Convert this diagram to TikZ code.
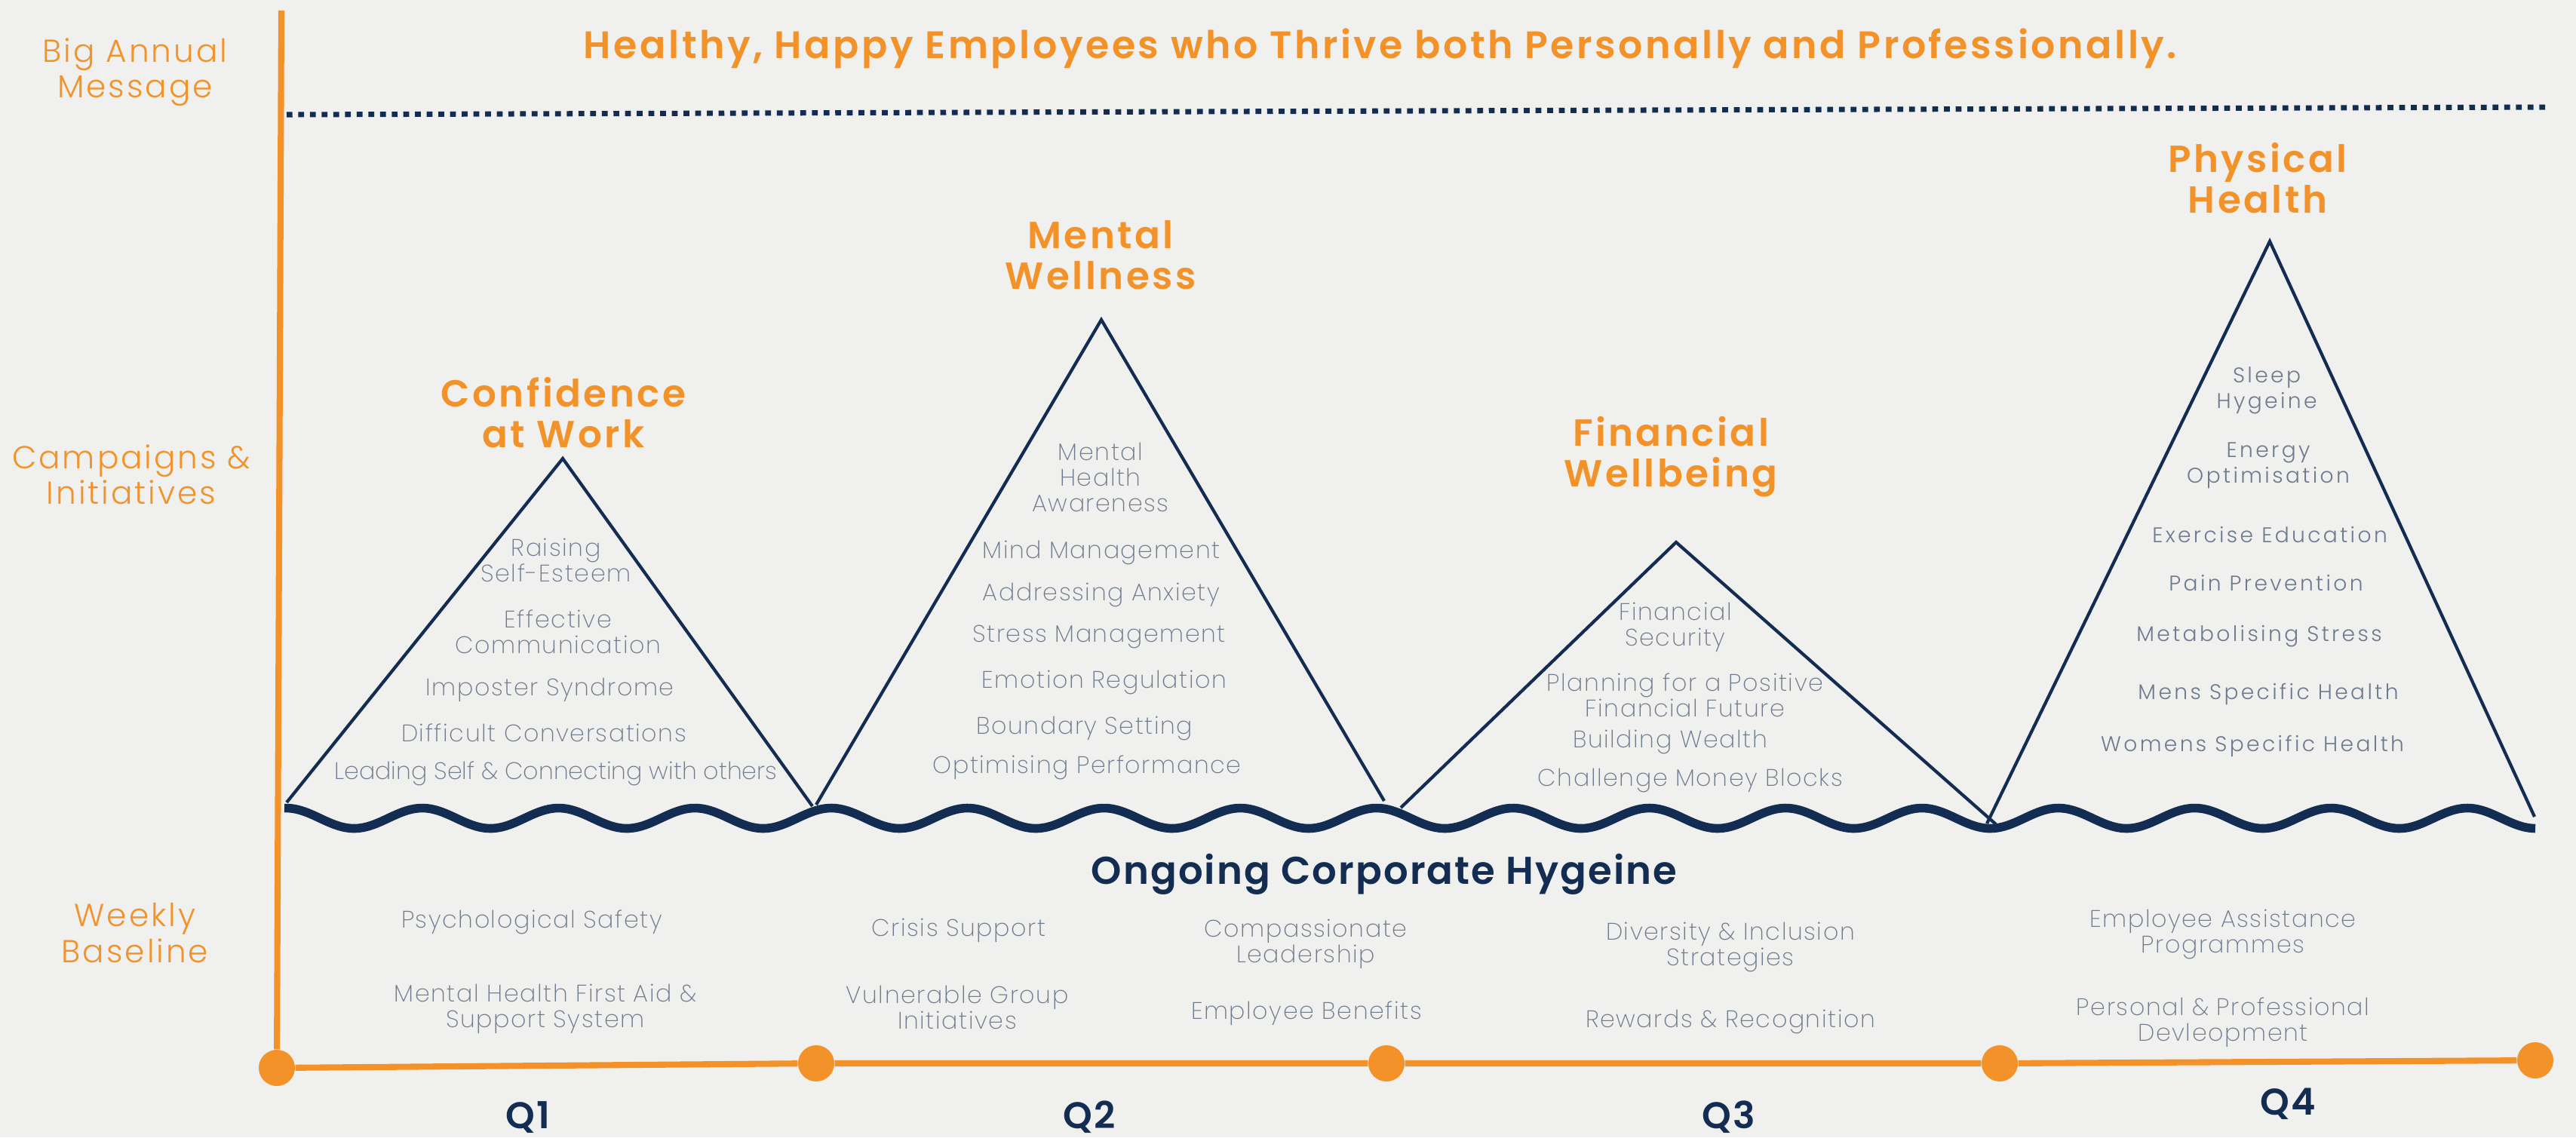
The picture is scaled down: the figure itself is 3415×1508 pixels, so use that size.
\documentclass[tikz,border=0pt]{standalone}
\usepackage{fontspec}
\setmainfont{Poppins}
\newfontfamily\thinfont{Poppins ExtraLight}[LetterSpace=5]
\newfontfamily\tightfont{Poppins ExtraLight}
\newfontfamily\lightfont{Poppins Light}[LetterSpace=7]
\newfontfamily\semifont{Poppins SemiBold}[LetterSpace=4]
\newfontfamily\widefont{Poppins Light}[LetterSpace=12]
\newfontfamily\headfont{Poppins SemiBold}[LetterSpace=7]

\definecolor{bgcol}{HTML}{F0F0EE}
\definecolor{orng}{HTML}{F39229}
\definecolor{navy}{HTML}{132D52}
\definecolor{itemgrey}{HTML}{6E7A8E}

\tikzset{
  rowlabel/.style={text=orng, align=center, inner sep=0pt, font=\lightfont\fontsize{12}{13.4}\selectfont},
  peaktitle/.style={text=orng, align=center, inner sep=0pt, font=\headfont\fontsize{14.2}{15.4}\selectfont},
  item/.style={text=itemgrey, align=center, inner sep=0pt, font=\thinfont\fontsize{9}{9.7}\selectfont},
  wideitem/.style={item, font=\widefont\fontsize{8}{9.7}\selectfont},
  quarter/.style={text=navy, inner sep=0pt, font=\semifont\fontsize{14}{15}\selectfont},
  peak/.style={draw=navy, line width=1.2pt},
  axis/.style={draw=orng, line width=2.3pt},
  tick/.style={circle, fill=orng, minimum size=0.48cm, inner sep=0pt},
}

\begin{document}
\begin{tikzpicture}[x=0.01cm, y=-0.01cm]
  \fill[bgcol] (0,0) rectangle (3415,1508);
  \useasboundingbox (0,0) rectangle (3415,1508);

  %%% row labels
  \node[rowlabel] (lblmsg) at (179, 96) {Big Annual\\Message};
  \node[rowlabel] (lblcamp) at (174, 629) {Campaigns \&\\Initiatives};
  \node[rowlabel] (lblweek) at (179, 1237) {Weekly\\Baseline};

  %%% annual message
  \node[text=orng, inner sep=0pt, font=\headfont\fontsize{14.4}{16}\selectfont] (headline) at (1830, 64)
    {Healthy, Happy Employees who Thrive both Personally and Professionally.};
  \coordinate (m0) at (380, 152);
  \coordinate (m1) at (3380, 142);
  \draw[navy, line width=2pt, dash pattern=on 2.2pt off 2.2pt] (m0) -- (m1);

  %%% quarter ticks and axes
  \node[tick] (q0) at (367, 1416) {};
  \node[tick] (q1) at (1082, 1410) {};
  \node[tick] (q2) at (1838, 1410) {};
  \node[tick] (q3) at (2651, 1410) {};
  \node[tick] (q4) at (3361, 1406) {};
  \coordinate (top) at (373, 14);
  \draw[axis] (top) -- (q0);
  \draw[axis] (q0) -- (q1) -- (q2) -- (q3) -- (q4);

  \node[quarter] (lq1) at (700, 1482) {Q1};
  \node[quarter] (lq2) at (1444, 1481) {Q2};
  \node[quarter] (lq3) at (2292, 1481) {Q3};
  \node[quarter] (lq4) at (3033, 1464) {Q4};

  %%% the peaks
  \coordinate (p1l) at (380, 1064);  \coordinate (p1t) at (746, 608);  \coordinate (p1r) at (1077, 1069);
  \coordinate (p2l) at (1082, 1067); \coordinate (p2t) at (1460, 424); \coordinate (p2r) at (1835, 1062);
  \coordinate (p3l) at (1857, 1071); \coordinate (p3t) at (2222, 719); \coordinate (p3r) at (2646, 1093);
  \coordinate (p4l) at (2634, 1092); \coordinate (p4t) at (3009, 320); \coordinate (p4r) at (3360, 1083);
  \draw[peak] (p1l) -- (p1t) -- (p1r);
  \draw[peak] (p2l) -- (p2t) -- (p2r);
  \draw[peak] (p3l) -- (p3t) -- (p3r);
  \draw[peak] (p4l) -- (p4t) -- (p4r);

  % baseline wave
  \draw[navy, line width=3.3pt] plot[domain=377:3361, samples=400, smooth]
    (\x, {1085 - 13.5*cos((\x-379)*1.99170)});

  \node[peaktitle] (t1) at (747, 547) {Confidence\\at Work};
  \node[peaktitle] (t2) at (1459, 338) {Mental\\Wellness};
  \node[peaktitle] (t3) at (2215, 606) {Financial\\Wellbeing};
  \node[peaktitle] (t4) at (2993, 236) {Physical\\Health};

  % Q1 peak
  \node[item] (c1) at (737, 743) {Raising\\Self-Esteem};
  \node[item] (c2) at (740, 838) {Effective\\Communication};
  \node[item] (c3) at (729, 915) {Imposter Syndrome};
  \node[item] (c4) at (721, 972) {Difficult Conversations};
  \node[item, font=\tightfont\fontsize{9}{9.7}\selectfont] (c5) at (737, 1026) {Leading Self \& Connecting with others};

  % Q2 peak
  \node[item] (w1) at (1459, 633) {Mental\\Health\\Awareness};
  \node[item] (w2) at (1460, 733) {Mind Management};
  \node[item] (w3) at (1460, 789) {Addressing Anxiety};
  \node[item] (w4) at (1457, 844) {Stress Management};
  \node[item] (w5) at (1464, 905) {Emotion Regulation};
  \node[item] (w6) at (1438, 966) {Boundary Setting};
  \node[item] (w7) at (1441, 1018) {Optimising Performance};

  % Q3 peak
  \node[item] (f1) at (2221, 832) {Financial\\Security};
  \node[item] (f2) at (2234, 922) {Planning for a Positive\\Financial Future};
  \node[item] (f3) at (2214, 984) {Building Wealth};
  \node[item] (f4) at (2241, 1035) {Challenge Money Blocks};

  % Q4 peak
  \node[wideitem] (h1) at (3005, 518) {Sleep\\Hygeine};
  \node[wideitem] (h2) at (3007, 617) {Energy\\Optimisation};
  \node[wideitem] (h3) at (3009, 709) {Exercise Education};
  \node[wideitem] (h4) at (3004, 773) {Pain Prevention};
  \node[wideitem] (h5) at (2995, 844) {Metabolising Stress};
  \node[wideitem] (h6) at (3007, 920) {Mens Specific Health};
  \node[wideitem] (h7) at (2986, 989) {Womens Specific Health};

  %%% weekly baseline
  \node[text=navy, inner sep=0pt, font=\semifont\fontsize{14.6}{16}\selectfont, text height=10pt] (hygiene) at (1835, 1162)
    {Ongoing Corporate Hygeine};

  \node[item] (b1) at (705, 1223) {Psychological Safety};
  \node[item] (b2) at (723, 1338) {Mental Health First Aid \&\\Support System};
  \node[item] (b3) at (1271, 1234) {Crisis Support};
  \node[item] (b4) at (1269, 1336) {Vulnerable Group\\Initiatives};
  \node[item] (b5) at (1731, 1252) {Compassionate\\Leadership};
  \node[item] (b6) at (1732, 1344) {Employee Benefits};
  \node[item] (b7) at (2294, 1256) {Diversity \& Inclusion\\Strategies};
  \node[item] (b8) at (2294, 1355) {Rewards \& Recognition};
  \node[item] (b9) at (2947, 1239) {Employee Assistance\\Programmes};
  \node[item] (b10) at (2947, 1356) {Personal \& Professional\\Devleopment};
\end{tikzpicture}
\end{document}
